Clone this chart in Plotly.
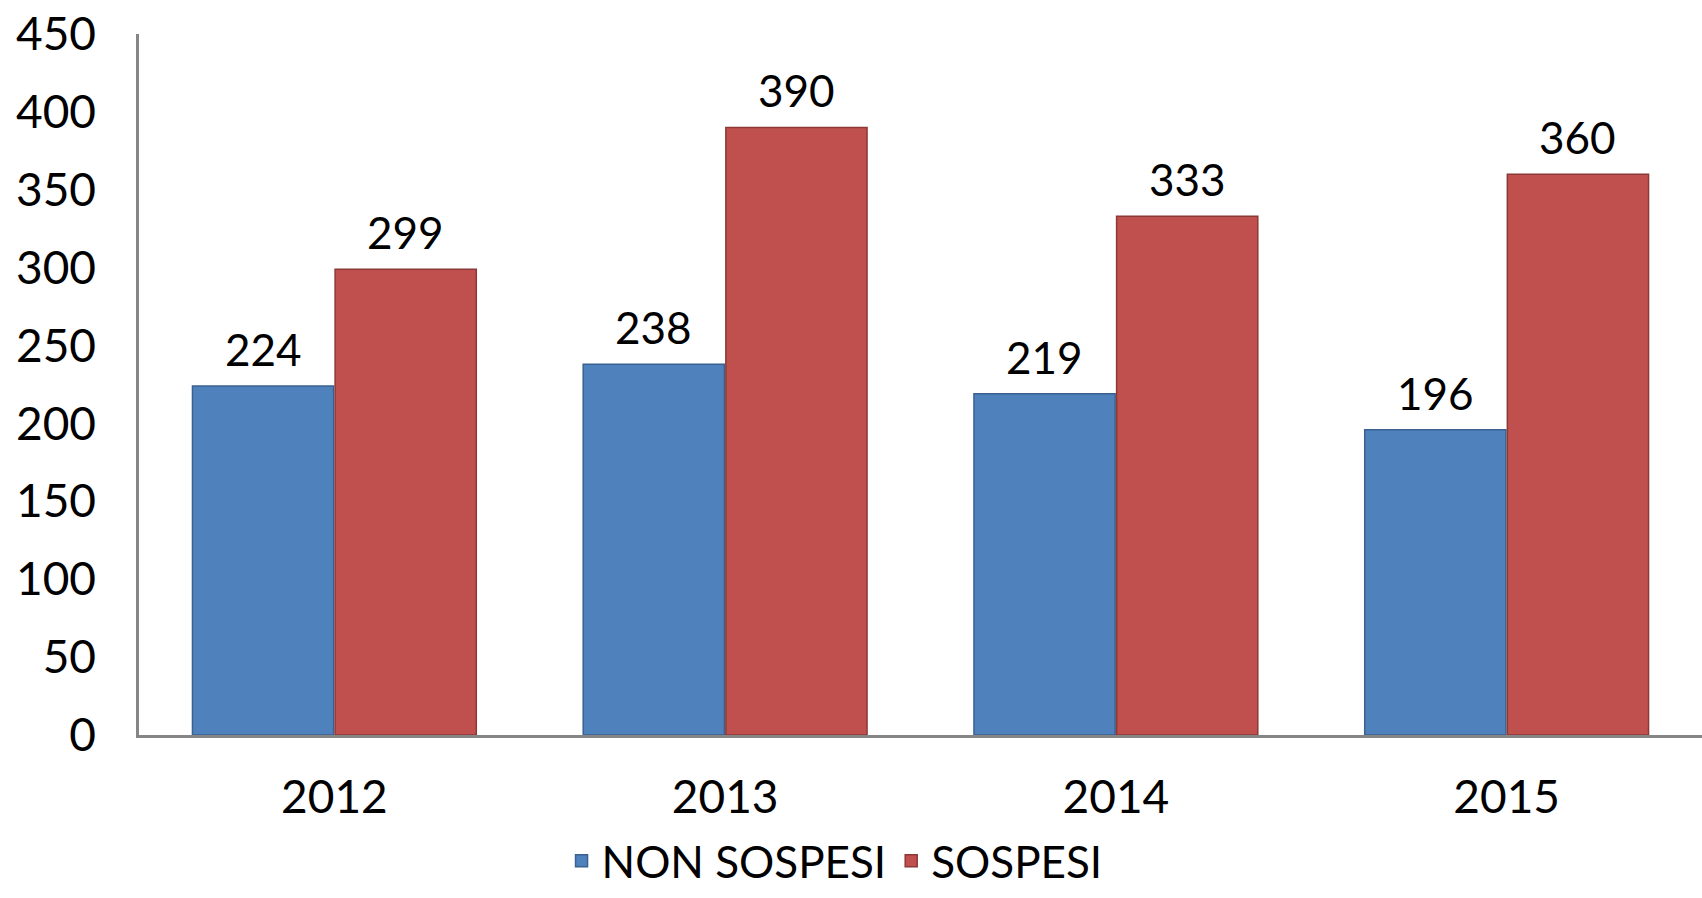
import plotly.graph_objects as go

years = ["2012", "2013", "2014", "2015"]
non_sospesi = [224, 238, 219, 196]
sospesi = [299, 390, 333, 360]
y_ticks = [0, 50, 100, 150, 200, 250, 300, 350, 400, 450]

FONT = "Lato"
L, R, T, B = 139, 0, 34, 163
W, H = 1702, 898
plot_h = H - T - B
bargap = 0.27
cat_w = (W - L - R) / len(years)
bar_w = cat_w * (1 - bargap) / 2

fig = go.Figure()
fig.add_trace(go.Bar(
    name="NON SOSPESI", x=years, y=non_sospesi,
    marker=dict(color="#4F81BD", line=dict(color="#3A6190", width=1.5)),
))
fig.add_trace(go.Bar(
    name="SOSPESI", x=years, y=sospesi,
    marker=dict(color="#C0504D", line=dict(color="#8C3836", width=1.5)),
))
for vals, sign in ((non_sospesi, -1), (sospesi, 1)):
    for i, v in enumerate(vals):
        fig.add_annotation(x=i, y=v, text=str(v), showarrow=False,
                           xshift=sign * bar_w / 2, yshift=9, yanchor="bottom",
                           font=dict(size=44, color="black", family=FONT))

fig.update_layout(
    width=W, height=H,
    margin=dict(l=L, r=R, t=T, b=B, autoexpand=False),
    paper_bgcolor="white", plot_bgcolor="white",
    barmode="group", bargap=bargap, bargroupgap=0.01,
    font=dict(family=FONT, size=44, color="black"),
    showlegend=True,
    legend=dict(orientation="h", x=0.445, xanchor="center", y=-0.18, yanchor="middle",
                font=dict(size=44, family=FONT), itemwidth=30, tracegroupgap=0),
)
fig.update_xaxes(type="category", range=[-0.5, len(years) - 0.5], automargin=False,
                 showline=True, linecolor="#868686", linewidth=2.5, showgrid=False,
                 ticks="", tickfont=dict(size=46), ticklabelstandoff=20)
fig.update_yaxes(range=[0, 450], tickvals=y_ticks, automargin=False, showline=True,
                 linecolor="#868686", linewidth=2.5, showgrid=False, ticks="",
                 zeroline=False, tickfont=dict(size=46), ticklabelstandoff=31)
fig.write_html("out.html", config={"displayModeBar": False},
               post_script="document.body.style.margin='0';document.body.style.overflow='hidden';")
